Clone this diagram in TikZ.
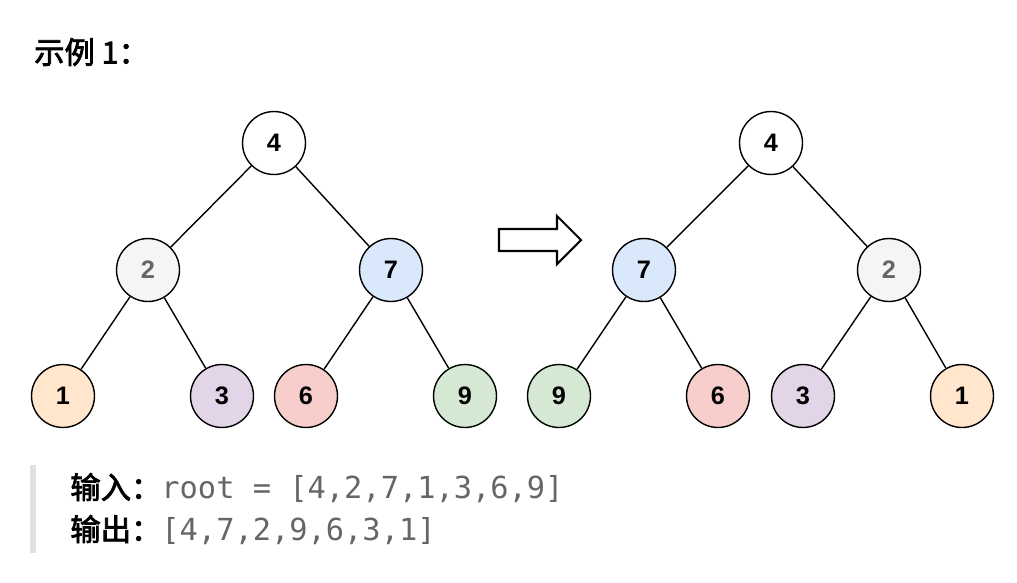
\documentclass[tikz,border=0pt]{standalone}
\usepackage{fontspec}
\setmainfont{Liberation Sans}
\newfontfamily\cjk{Noto Sans CJK SC}[AutoFakeBold=2.5]
\newfontfamily\monof{DejaVu Sans Mono}
\usetikzlibrary{positioning}
\definecolor{cgray}{HTML}{F5F5F5}
\definecolor{cblue}{HTML}{DAE8FC}
\definecolor{corange}{HTML}{FFE6CC}
\definecolor{cpurple}{HTML}{E1D5E7}
\definecolor{cred}{HTML}{F8CECC}
\definecolor{cgreen}{HTML}{D5E8D4}
\definecolor{codegray}{HTML}{666666}
\begin{document}
\begin{tikzpicture}[x=0.02cm,y=-0.02cm]
\tikzset{
treenode/.style={
  circle,
  draw,
  thick,
  minimum size=1.26cm,
  inner sep=0pt,
  font=\bfseries\Large
  },
edge/.style={thick}
}
\useasboundingbox (0,0) rectangle (1017,582);

\node[anchor=west, font=\cjk\bfseries\LARGE] (title) at (28,52) {示例 1：};

% left tree
\node[treenode] (a4) at (274,143) {4};
\node[treenode, fill=cgray, text=codegray] (a2) at (148,270) {2};
\node[treenode, fill=cblue] (a7) at (391,270) {7};
\node[treenode, fill=corange] (a1) at (63,396) {1};
\node[treenode, fill=cpurple] (a3) at (222,396) {3};
\node[treenode, fill=cred] (a6) at (306,396) {6};
\node[treenode, fill=cgreen] (a9) at (465,396) {9};
\draw[edge] (a4) -- (a2);
\draw[edge] (a4) -- (a7);
\draw[edge] (a2) -- (a1);
\draw[edge] (a2) -- (a3);
\draw[edge] (a7) -- (a6);
\draw[edge] (a7) -- (a9);

% right tree
\node[treenode] (b4) at (771,143) {4};
\node[treenode, fill=cblue] (b7) at (644,270) {7};
\node[treenode, fill=cgray, text=codegray] (b2) at (889,270) {2};
\node[treenode, fill=cgreen] (b9) at (559,396) {9};
\node[treenode, fill=cred] (b6) at (718,396) {6};
\node[treenode, fill=cpurple] (b3) at (803,396) {3};
\node[treenode, fill=corange] (b1) at (962,396) {1};
\draw[edge] (b4) -- (b7);
\draw[edge] (b4) -- (b2);
\draw[edge] (b7) -- (b9);
\draw[edge] (b7) -- (b6);
\draw[edge] (b2) -- (b3);
\draw[edge] (b2) -- (b1);

% block arrow
\draw[very thick, line join=miter] (499,229) -- (557,229) -- (557,216) -- (581,240)
  -- (557,264) -- (557,251) -- (499,251) -- cycle;

% example text
\draw[line width=3pt, draw=black!12] (33,465) -- (33,553);
\node[anchor=west, inner sep=0pt] (input) at (70,488)
  {{\cjk\bfseries\LARGE 输入：}{\monof\LARGE\color{codegray}root = [4,2,7,1,3,6,9]}};
\node[anchor=west, inner sep=0pt] (output) at (70,530)
  {{\cjk\bfseries\LARGE 输出：}{\monof\LARGE\color{codegray}[4,7,2,9,6,3,1]}};
\end{tikzpicture}
\end{document}
